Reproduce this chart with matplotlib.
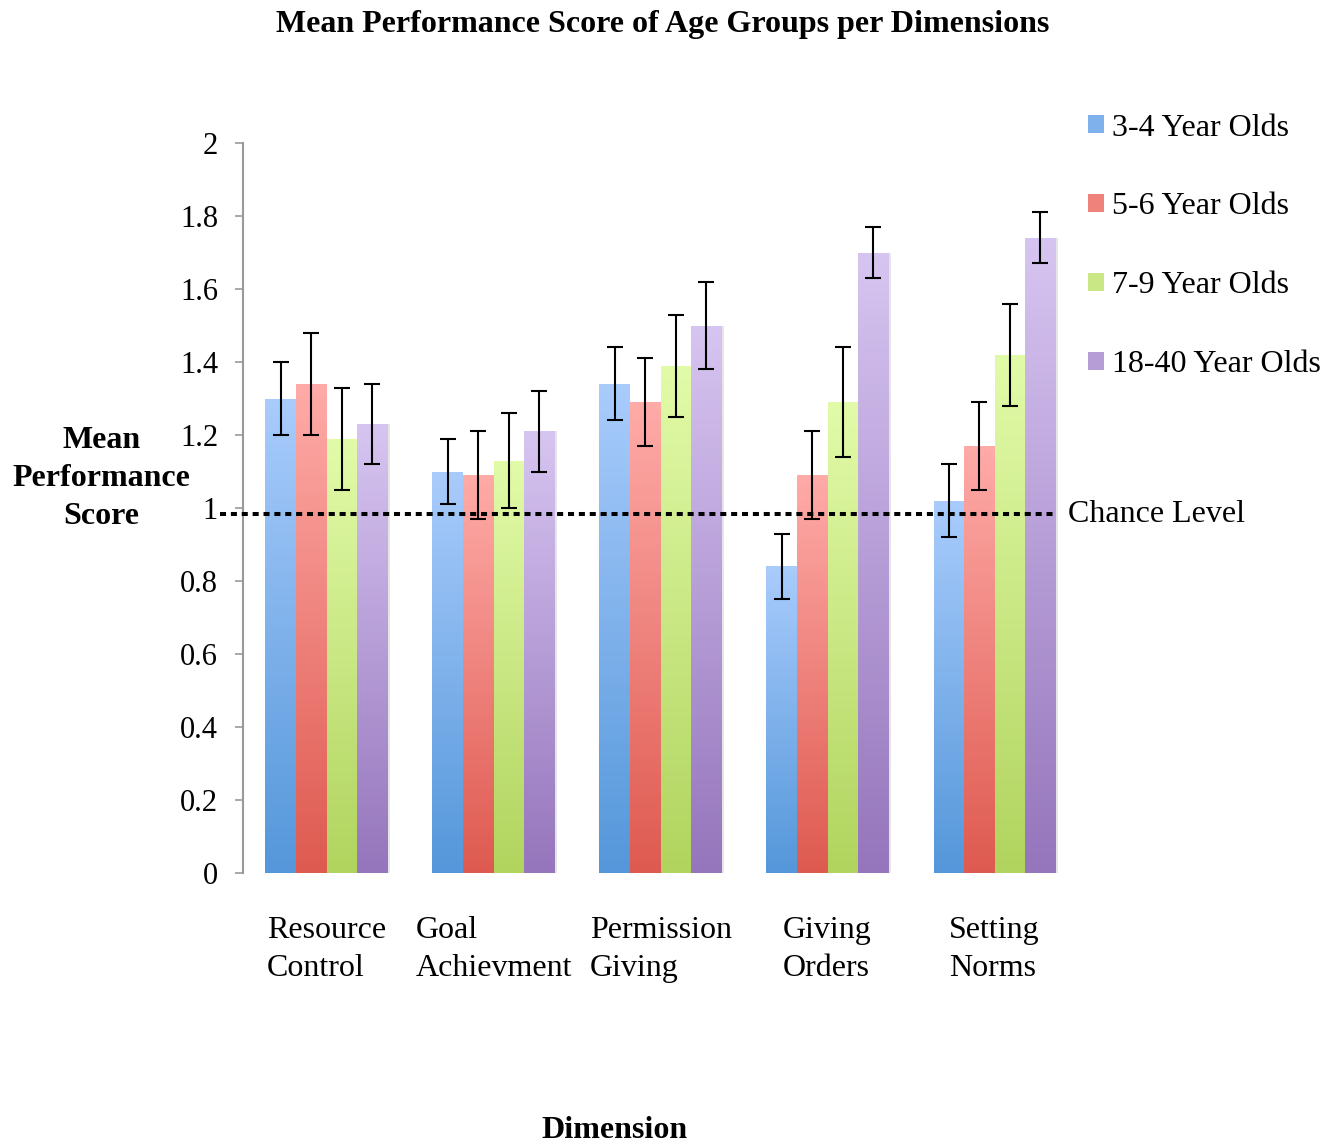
import numpy as np
import matplotlib
matplotlib.use('Agg')
import matplotlib.pyplot as plt
from matplotlib.colors import LinearSegmentedColormap
from matplotlib.patches import Patch

plt.rcParams['font.family'] = ['Liberation Serif', 'DejaVu Serif']

categories = ['Resource\nControl', 'Goal\nAchievment', 'Permission\nGiving', 'Giving\nOrders', 'Setting\nNorms']
groups = ['3-4 Year Olds', '5-6 Year Olds', '7-9 Year Olds', '18-40 Year Olds']
means_34 = [1.30, 1.10, 1.34, 0.84, 1.02]
means_56 = [1.34, 1.09, 1.29, 1.09, 1.17]
means_79 = [1.19, 1.13, 1.39, 1.29, 1.42]
means_1840 = [1.23, 1.21, 1.50, 1.70, 1.74]
err_34 = [0.10, 0.09, 0.10, 0.09, 0.10]
err_56 = [0.14, 0.12, 0.12, 0.12, 0.12]
err_79 = [0.14, 0.13, 0.14, 0.15, 0.14]
err_1840 = [0.11, 0.11, 0.12, 0.07, 0.07]
chance = 0.983

means = [means_34, means_56, means_79, means_1840]
errs = [err_34, err_56, err_79, err_1840]
tops = ['#a9ccfc', '#ffaba8', '#e2fba9', '#d7c5f1']
bottoms = ['#5497da', '#de5a50', '#b1d45e', '#9575bc']
mids = ['#7fb2ec', '#f0827c', '#c9e784', '#b69dd6']

fig = plt.figure(figsize=(13.36, 11.47), dpi=100)
ax = fig.add_axes([0.1819, 0.2389, 0.807 - 0.1819, 0.8753 - 0.2389])

x = np.arange(len(categories)) + 0.5
w = 0.183
grad = np.linspace(0, 1, 256).reshape(-1, 1)
for i in range(4):
    pos = x + (i - 1.5) * w
    bars = ax.bar(pos, means[i], w, color='none', edgecolor='none', zorder=2)
    cmap = LinearSegmentedColormap.from_list('g%d' % i, [bottoms[i], tops[i]])
    for r in bars:
        x0, y0 = r.get_x(), r.get_y()
        im = ax.imshow(grad, cmap=cmap, origin='lower', aspect='auto',
                       extent=[x0, x0 + r.get_width(), y0, y0 + r.get_height()], zorder=2)
        im.set_clip_path(r)
        if i == 3:
            ax.bar(x0 + r.get_width() + 0.006, r.get_height(), 0.012, align='center',
                   color='#999999', alpha=0.25, zorder=1, edgecolor='none')
    ax.errorbar(pos, means[i], yerr=errs[i], fmt='none', ecolor='black',
                elinewidth=1.5, capsize=6, capthick=1.5, zorder=4)

ax.plot([-0.14, 4.87], [chance, chance], color='black', lw=2.9,
        linestyle=(0, (1.5, 1.2)), zorder=5, clip_on=False)
ax.text(4.94, chance, 'Chance Level', fontsize=23, va='center', ha='left')

ax.set_xlim(0, 5)
ax.set_ylim(0, 2)
ax.set_yticks(np.arange(0, 2.01, 0.2))
ax.set_yticklabels(['0', '0.2', '0.4', '0.6', '0.8', '1', '1.2', '1.4', '1.6', '1.8', '2'])
ax.set_xticks(x)
ax.set_xticklabels(categories, fontsize=23, multialignment='left', linespacing=1.4)
ax.tick_params(axis='x', length=0, pad=31)
ax.tick_params(axis='y', direction='out', length=6, width=1.2, color='#999999',
               labelsize=22, pad=12)
for s in ['top', 'right', 'bottom']:
    ax.spines[s].set_visible(False)
ax.spines['left'].set_color('#999999')
ax.spines['left'].set_linewidth(1.5)

handles = [Patch(facecolor=mids[i], edgecolor='none') for i in range(4)]
fig.legend(handles, groups, loc='upper left', bbox_to_anchor=(0.793, 0.926),
           frameon=False, fontsize=23, handlelength=0.5, handleheight=0.5,
           handletextpad=0.25, labelspacing=1.56)

fig.text(0.496, 0.979, 'Mean Performance Score of Age Groups per Dimensions',
         fontsize=23, fontweight='bold', ha='center', va='center')
fig.text(0.076, 1 - 441 / 1147, 'Mean', fontsize=23, fontweight='bold', ha='center', va='center')
fig.text(0.076, 1 - 479 / 1147, 'Performance', fontsize=23, fontweight='bold', ha='center', va='center')
fig.text(0.076, 1 - 517 / 1147, 'Score', fontsize=23, fontweight='bold', ha='center', va='center')
fig.text(0.46, 1 - 1130 / 1147, 'Dimension', fontsize=23, fontweight='bold', ha='center', va='center')

fig.savefig('out.png', dpi=100)
